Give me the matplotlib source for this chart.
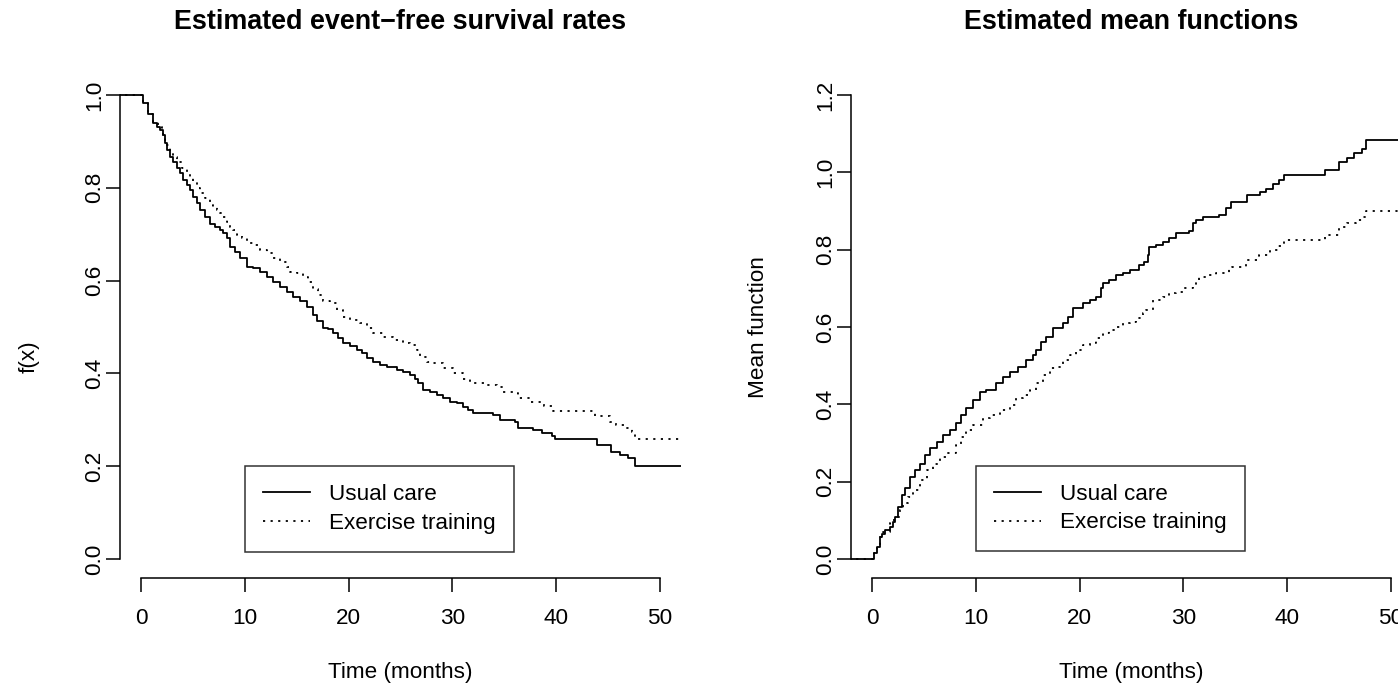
import matplotlib
matplotlib.use("Agg")
import matplotlib.pyplot as plt
import numpy as np

plt.rcParams['font.family'] = ['Liberation Sans', 'DejaVu Sans']

# ---------------- data ----------------
# Left panel: event-free survival step functions (time in months, survival)
surv_uc_t = [0.2, 0.71, 1.19, 1.51, 1.83, 2.15, 2.31, 2.47, 2.79, 3.11, 3.44, 3.76, 4.08,
             4.40, 4.72, 5.04, 5.37, 5.68, 6.17, 6.65, 7.13, 7.61, 7.93, 8.25, 8.57, 9.06,
             9.54, 10.18, 10.82, 11.46, 12.11, 12.75, 13.39, 14.04, 14.67, 15.32, 15.96,
             16.6, 17.0, 17.56, 18.05, 18.53, 19.0, 19.49, 20.13, 20.78, 21.26, 21.74,
             22.38, 23.03, 23.67, 24.63, 25.27, 25.92, 26.4, 26.72, 27.2, 27.84, 28.49,
             29.12, 29.77, 30.41, 31.05, 31.53, 32.01, 33.94, 34.59, 36.0, 36.35, 37.8,
             38.6, 39.6, 39.9, 43.9, 45.3, 46.1, 46.95, 47.6]
surv_uc_v = [0.982, 0.960, 0.939, 0.932, 0.925, 0.914, 0.896, 0.881, 0.867, 0.856, 0.842,
             0.831, 0.817, 0.806, 0.795, 0.781, 0.767, 0.752, 0.738, 0.723, 0.716, 0.709,
             0.702, 0.691, 0.673, 0.662, 0.648, 0.630, 0.627, 0.619, 0.608, 0.598, 0.587,
             0.576, 0.565, 0.555, 0.544, 0.526, 0.513, 0.497, 0.495, 0.486, 0.476, 0.465,
             0.458, 0.450, 0.443, 0.433, 0.425, 0.418, 0.414, 0.407, 0.402, 0.397, 0.389,
             0.379, 0.364, 0.359, 0.353, 0.346, 0.339, 0.336, 0.328, 0.321, 0.314, 0.310,
             0.300, 0.296, 0.282, 0.278, 0.271, 0.265, 0.258, 0.246, 0.231, 0.224, 0.217,
             0.200]

surv_et_t = [0.2, 0.71, 1.19, 1.67, 1.99, 2.15, 2.31, 2.47, 2.79, 3.11, 3.44, 3.92, 4.40,
             4.72, 5.04, 5.37, 5.68, 6.17, 6.65, 6.97, 7.29, 7.61, 7.93, 8.25, 8.57, 8.89,
             9.22, 9.70, 10.18, 10.82, 11.46, 12.11, 12.75, 13.39, 14.03, 14.35, 14.99,
             15.64, 16.1, 16.6, 17.08, 17.56, 18.2, 18.85, 19.49, 20.13, 21.1, 21.74, 22.38,
             23.35, 24.3, 25.27, 25.92, 26.56, 26.88, 27.52, 28.17, 29.13, 30.1, 31.05,
             31.7, 33.3, 34.3, 34.9, 36.0, 36.35, 37.5, 38.8, 39.7, 43.7, 45.2, 45.8, 46.5,
             47.3, 47.6]
surv_et_v = [0.982, 0.960, 0.942, 0.932, 0.921, 0.914, 0.903, 0.892, 0.878, 0.867, 0.856,
             0.842, 0.831, 0.824, 0.813, 0.799, 0.788, 0.777, 0.763, 0.759, 0.752, 0.745,
             0.738, 0.727, 0.716, 0.709, 0.698, 0.691, 0.680, 0.677, 0.666, 0.659, 0.648,
             0.641, 0.630, 0.619, 0.616, 0.608, 0.598, 0.582, 0.569, 0.555, 0.551, 0.537,
             0.522, 0.515, 0.508, 0.497, 0.486, 0.479, 0.472, 0.465, 0.461, 0.450, 0.436,
             0.425, 0.422, 0.411, 0.400, 0.389, 0.379, 0.375, 0.371, 0.361, 0.357, 0.346,
             0.339, 0.330, 0.320, 0.308, 0.296, 0.289, 0.282, 0.274, 0.258]

# Right panel: estimated mean functions (step functions)
mf_uc_t = [0.19, 0.45, 0.77, 0.93, 1.25, 1.73, 2.05, 2.21, 2.53, 2.85, 3.17, 3.65, 4.13,
           4.62, 5.1, 5.58, 6.22, 6.86, 7.5, 8.14, 8.62, 9.1, 9.74, 10.38, 11.03, 11.99,
           12.63, 13.27, 14.07, 14.87, 15.51, 15.84, 16.31, 16.79, 17.44, 18.4, 18.88,
           19.36, 20.32, 20.96, 21.6, 22.08, 22.24, 22.88, 23.53, 24.17, 24.81, 25.77,
           26.25, 26.57, 26.73, 27.37, 28.01, 28.65, 29.29, 30.58, 30.9, 31.22, 31.86,
           33.46, 34.1, 34.6, 36.1, 37.4, 38.0, 38.6, 39.2, 39.7, 43.65, 45.0, 45.8, 46.4,
           47.2, 47.55]
mf_uc_v = [0.015, 0.032, 0.058, 0.066, 0.075, 0.084, 0.097, 0.109, 0.135, 0.166, 0.183,
           0.213, 0.230, 0.247, 0.269, 0.286, 0.303, 0.321, 0.334, 0.351, 0.372, 0.390,
           0.411, 0.433, 0.437, 0.454, 0.472, 0.484, 0.497, 0.515, 0.528, 0.540, 0.562,
           0.575, 0.597, 0.610, 0.627, 0.648, 0.661, 0.670, 0.678, 0.700, 0.713, 0.721,
           0.734, 0.739, 0.747, 0.760, 0.769, 0.786, 0.808, 0.812, 0.821, 0.829, 0.842,
           0.847, 0.868, 0.877, 0.885, 0.890, 0.907, 0.924, 0.941, 0.950, 0.958, 0.971,
           0.980, 0.993, 1.006, 1.027, 1.036, 1.049, 1.060, 1.084]

mf_et_t = [0.19, 0.45, 0.77, 1.09, 1.73, 2.05, 2.37, 2.69, 3.01, 3.49, 3.97, 4.62, 5.26,
           5.9, 6.54, 7.18, 8.14, 8.62, 9.1, 9.74, 10.7, 11.35, 12.31, 13.27, 13.91, 14.55,
           15.19, 15.83, 16.47, 17.12, 17.76, 18.4, 19.04, 19.68, 20.32, 20.96, 21.6,
           22.24, 22.88, 23.53, 24.17, 24.81, 25.45, 26.09, 26.41, 27.05, 28.01, 28.65,
           29.29, 29.94, 30.9, 31.22, 31.54, 32.5, 33.14, 34.42, 34.7, 36.0, 37.3, 38.3,
           39.1, 39.7, 43.65, 45.0, 45.8, 46.6, 47.2, 47.55]
mf_et_v = [0.015, 0.030, 0.058, 0.071, 0.092, 0.101, 0.109, 0.127, 0.144, 0.161, 0.178,
           0.204, 0.230, 0.247, 0.265, 0.273, 0.295, 0.316, 0.334, 0.347, 0.364, 0.372,
           0.385, 0.398, 0.416, 0.424, 0.437, 0.454, 0.476, 0.493, 0.497, 0.515, 0.528,
           0.540, 0.553, 0.558, 0.571, 0.584, 0.592, 0.601, 0.610, 0.614, 0.622, 0.635,
           0.644, 0.670, 0.678, 0.687, 0.691, 0.700, 0.704, 0.721, 0.730, 0.734, 0.739,
           0.752, 0.756, 0.773, 0.786, 0.799, 0.809, 0.825, 0.838, 0.859, 0.868, 0.877,
           0.885, 0.901]

series_labels = ["Usual care", "Exercise training"]
x_ticks = [0, 10, 20, 30, 40, 50]
left_yticks = [0.0, 0.2, 0.4, 0.6, 0.8, 1.0]
right_yticks = [0.0, 0.2, 0.4, 0.6, 0.8, 1.0, 1.2]
titles = ["Estimated event\u2212free survival rates", "Estimated mean functions"]
ylabels = ["f(x)", "Mean function"]
xlabel = "Time (months)"

# ---------------- figure ----------------
W, H = 1398, 690
fig = plt.figure(figsize=(W / 100, H / 100), dpi=100)

FS = 16.2
TFS = 19.4
LW = 1.1
CLW = 1.3
DOT = (0, (1.2, 3.0))

ax1 = fig.add_axes([120.2 / W, 1 - 577.6 / H, 560.6 / W, 501.2 / H])
ax2 = fig.add_axes([851.2 / W, 1 - 577.6 / H, 560.6 / W, 501.2 / H])


def step_curve(ax, t, v, start, **kw):
    x0, x1 = ax.get_xlim()
    tt = np.concatenate([[x0 - 1, 0.0], t, [x1 + 1]])
    vv = np.concatenate([[start, start], v, [v[-1]]])
    ax.step(tt, vv, where='post', color='black', lw=CLW, **kw)


def style(ax, yticks, ylim, title, ylab, lab_xy):
    ax.set_xlim(-2, 52)
    ax.set_ylim(*ylim)
    for s in ['top', 'right']:
        ax.spines[s].set_visible(False)
    for s in ['left', 'bottom']:
        ax.spines[s].set_linewidth(LW)
        ax.spines[s].set_color('black')
    ax.spines['left'].set_bounds(yticks[0], yticks[-1])
    ax.spines['bottom'].set_bounds(x_ticks[0], x_ticks[-1])
    ax.set_xticks(x_ticks)
    ax.set_xticklabels([str(t) for t in x_ticks])
    ax.set_yticks(yticks)
    ax.set_yticklabels([f"{t:.1f}" for t in yticks], rotation=90, va='center')
    ax.tick_params(axis='both', length=10, width=LW, color='black', labelsize=FS)
    ax.tick_params(axis='x', pad=12)
    ax.tick_params(axis='y', pad=1)
    ax.set_title(title, fontsize=TFS, fontweight='bold', pad=34)
    ax.set_xlabel(xlabel, fontsize=FS)
    ax.xaxis.set_label_coords(0.5, -0.168)
    ax.set_ylabel(ylab, fontsize=FS)
    ax.yaxis.set_label_coords(*lab_xy)


style(ax1, left_yticks, (-0.04, 1.04), titles[0], ylabels[0], (-0.143, 0.44))
style(ax2, right_yticks, (-0.048, 1.248), titles[1], ylabels[1], (-0.147, 0.5))

step_curve(ax1, surv_uc_t, surv_uc_v, 1.0, label=series_labels[0])
step_curve(ax1, surv_et_t, surv_et_v, 1.0, linestyle=DOT, label=series_labels[1])
step_curve(ax2, mf_uc_t, mf_uc_v, 0.0, label=series_labels[0])
step_curve(ax2, mf_et_t, mf_et_v, 0.0, linestyle=DOT, label=series_labels[1])

for ax, anchor in [(ax1, (10, 0.2)), (ax2, (10, 0.2405))]:
    leg = ax.legend(loc='upper left', bbox_to_anchor=anchor,
                    bbox_transform=ax.transData, borderaxespad=0,
                    fontsize=FS, frameon=True, fancybox=False,
                    handlelength=2.1, handletextpad=0.85, borderpad=0.8,
                    labelspacing=0.33)
    fr = leg.get_frame()
    fr.set_edgecolor('black')
    fr.set_linewidth(LW)
    fr.set_boxstyle('square', pad=0)

fig.savefig("out.png", dpi=100)
